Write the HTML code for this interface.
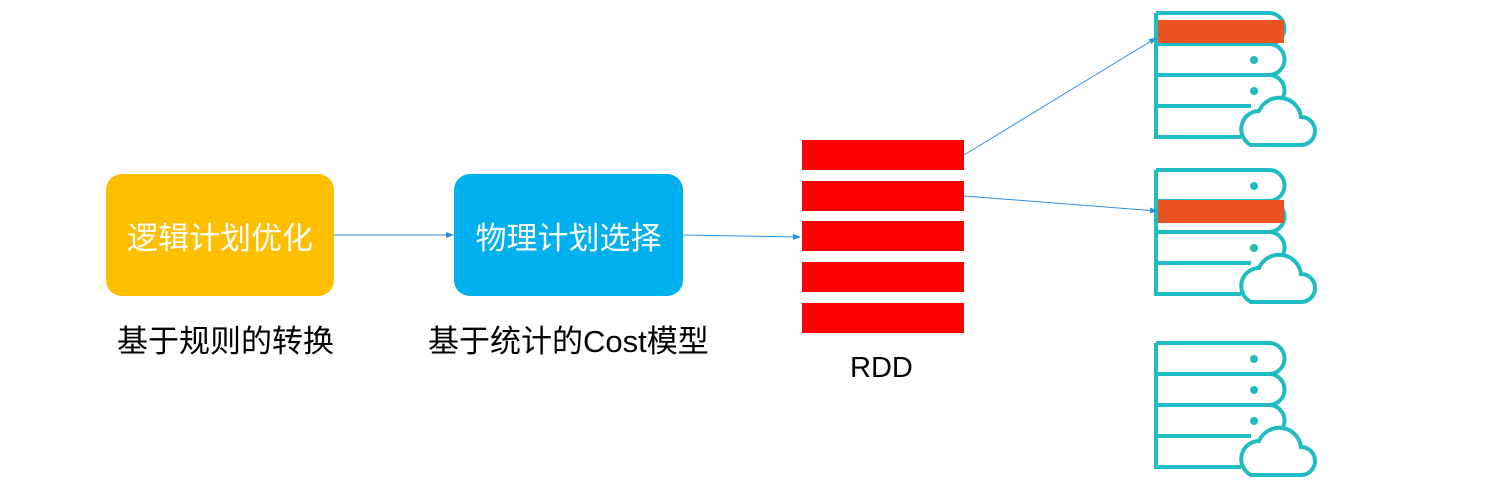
<!DOCTYPE html>
<html><head><meta charset="utf-8"><style>
body{margin:0;background:#fff;width:1490px;height:493px;overflow:hidden;position:relative;font-family:"Liberation Sans","Noto Sans CJK SC",sans-serif}
.box{position:absolute;border-radius:16px;color:#fff;font-size:31px;display:flex;align-items:center;justify-content:center}
.lbl{position:absolute;font-size:31px;color:#000;white-space:nowrap;line-height:40px}
</style></head><body>
<div class="box" style="left:106px;top:174px;width:228px;height:122px;background:#fdbf00">逻辑计划优化</div>
<div class="box" style="left:454px;top:174px;width:229px;height:122px;background:#00b0ef">物理计划选择</div>
<div class="lbl" style="left:117px;top:322px">基于规则的转换</div>
<div class="lbl" style="left:428px;top:322px">基于统计的Cost模型</div>
<div class="lbl" style="left:850px;top:348px;font-size:29px">RDD</div>
<svg width="1490" height="493" style="position:absolute;left:0;top:0">
<defs>
<marker id="a" markerWidth="8" markerHeight="6" refX="7" refY="3" orient="auto"><path d="M0,0 L8,3 L0,6z" fill="#2a8ee0"/></marker>
<g id="srv" fill="none" stroke="#20bcc4" stroke-width="4">
<path d="M0,0 H113 a15,15 0 0 1 0,31 a15,15 0 0 1 0,31 a15,15 0 0 1 0,31 M0,0 V124 H85 M0,31 H113 M0,62 H113 M0,93 H95"/>
<circle cx="98" cy="16" r="4" fill="#20bcc4" stroke="none"/>
<circle cx="98" cy="47" r="4" fill="#20bcc4" stroke="none"/>
<circle cx="98" cy="78" r="4" fill="#20bcc4" stroke="none"/>
<path d="M95,132 h50 a14,14 0 0 0 0,-28 a22,22 0 0 0 -42,-6 a18,18 0 0 0 -8,34z" fill="#fff"/>
</g>
</defs>
<g fill="#ff0000">
<rect x="802" y="140" width="162" height="30"/>
<rect x="802" y="181" width="162" height="30"/>
<rect x="802" y="221" width="162" height="30"/>
<rect x="802" y="262" width="162" height="30"/>
<rect x="802" y="303" width="162" height="30"/>
</g>
<use href="#srv" x="1156" y="13"/>
<use href="#srv" x="1156" y="170"/>
<use href="#srv" x="1156" y="343"/>
<rect x="1158" y="20" width="126" height="23" fill="#e8531f"/>
<rect x="1158" y="200" width="126" height="23" fill="#e8531f"/>
<g stroke="#2a8ee0" stroke-width="1" fill="none">
<line x1="334" y1="235" x2="453" y2="235" marker-end="url(#a)"/>
<line x1="683" y1="235" x2="800" y2="237" marker-end="url(#a)"/>
<line x1="964" y1="155" x2="1156" y2="38" marker-end="url(#a)"/>
<line x1="964" y1="196" x2="1157" y2="211" marker-end="url(#a)"/>
</g>
</svg>
</body></html>
